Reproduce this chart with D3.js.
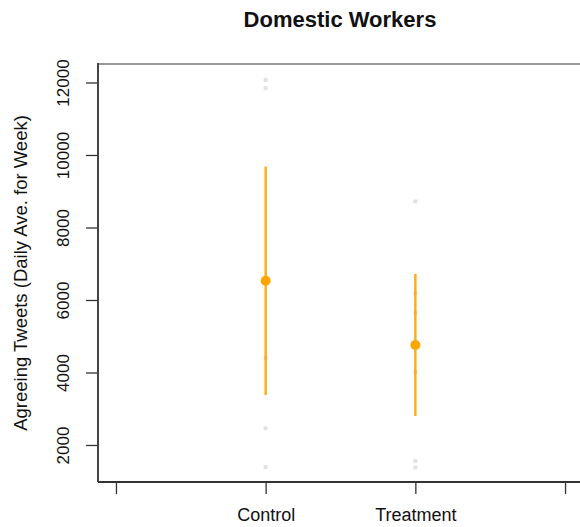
<!DOCTYPE html>
<html>
<head>
<meta charset="utf-8">
<script src="https://cdn.jsdelivr.net/npm/d3@7"></script>
<style>
  body { margin: 0; background: #fff; }
  text { font-family: "Liberation Sans", Arial, sans-serif; fill: #111; }
</style>
</head>
<body>
<svg id="chart" width="580" height="527"></svg>
<script>
const groups = ['Control', 'Treatment'];
const groupPos = [1, 2];
const means = [6530, 4760];
const ciLow = [3380, 2800];
const ciHigh = [9680, 6720];
// weekly observations (light grey points)
const controlObs = [12070, 11840, 4400, 2460, 1390];
const treatmentObs = [8720, 6190, 5640, 4010, 1560, 1380];
const yTicks = [2000, 4000, 6000, 8000, 10000, 12000];
const xTicks = [0, 1, 2, 3];
const xTickLabels = ['', 'Control', 'Treatment', ''];

const svg = d3.select('#chart');
const plotLeft = 98, plotRight = 583, plotTop = 64, plotBottom = 482;

const x = d3.scaleLinear().domain([-0.12, 3.12]).range([plotLeft, plotRight]);
const y = d3.scaleLinear().domain([979, 12510]).range([plotBottom, plotTop]);

// title
svg.append('text')
  .attr('x', 340)
  .attr('y', 27)
  .attr('text-anchor', 'middle')
  .style('font-size', '22px')
  .style('font-weight', 'bold')
  .text('Domestic Workers');

// frame: grey top edge, dark axes
svg.append('line')
  .attr('x1', plotLeft).attr('x2', 580)
  .attr('y1', plotTop).attr('y2', plotTop)
  .attr('stroke', '#999').attr('stroke-width', 2);

// y axis
const yAxis = svg.append('g')
  .attr('transform', `translate(${plotLeft},0)`)
  .call(d3.axisLeft(y).tickValues(yTicks).tickFormat(d3.format('d')).tickSize(12).tickSizeOuter(0).tickPadding(0));
yAxis.select('.domain').remove();
yAxis.selectAll('.tick line').attr('stroke', '#333').attr('stroke-width', 1.3);
yAxis.selectAll('.tick text')
  .attr('x', 0).attr('dy', 0)
  .attr('transform', 'translate(-29.5,0) rotate(-90)')
  .attr('text-anchor', 'middle')
  .style('font-size', '17px');
svg.append('line')
  .attr('x1', plotLeft).attr('x2', plotLeft)
  .attr('y1', plotTop - 1).attr('y2', plotBottom)
  .attr('stroke', '#444').attr('stroke-width', 2);

// x axis
const xAxis = svg.append('g')
  .attr('transform', `translate(0,${plotBottom})`)
  .call(d3.axisBottom(x).tickValues(xTicks).tickFormat((d, i) => xTickLabels[i]).tickSize(12).tickSizeOuter(0).tickPadding(14));
xAxis.select('.domain').remove();
xAxis.selectAll('.tick line').attr('stroke', '#333').attr('stroke-width', 1.3);
xAxis.selectAll('.tick text').style('font-size', '18px');
svg.append('line')
  .attr('x1', plotLeft).attr('x2', plotRight)
  .attr('y1', plotBottom).attr('y2', plotBottom)
  .attr('stroke', '#333').attr('stroke-width', 2);

// y axis title
svg.append('text')
  .attr('transform', `translate(27,${(plotTop + plotBottom) / 2}) rotate(-90)`)
  .attr('text-anchor', 'middle')
  .style('font-size', '18.5px')
  .text('Agreeing Tweets (Daily Ave. for Week)');

// grey observation points
const obs = [controlObs, treatmentObs];
obs.forEach((vals, gi) => {
  svg.selectAll(null)
    .data(vals)
    .enter().append('rect')
    .attr('x', x(groupPos[gi]) - 2)
    .attr('y', d => y(d) - 2)
    .attr('width', 4).attr('height', 4)
    .attr('fill', '#e2e2e2');
});

// confidence intervals
svg.selectAll('.ci')
  .data(groups)
  .enter().append('line')
  .attr('class', 'ci')
  .attr('x1', (d, i) => x(groupPos[i])).attr('x2', (d, i) => x(groupPos[i]))
  .attr('y1', (d, i) => y(ciLow[i])).attr('y2', (d, i) => y(ciHigh[i]))
  .attr('stroke', '#FFA500').attr('stroke-width', 2.5)
  .attr('stroke-opacity', 0.9);

// means
svg.selectAll('.mean')
  .data(groups)
  .enter().append('circle')
  .attr('class', 'mean')
  .attr('cx', (d, i) => x(groupPos[i]))
  .attr('cy', (d, i) => y(means[i]))
  .attr('r', 5)
  .attr('fill', '#FFA500');
</script>
</body>
</html>
